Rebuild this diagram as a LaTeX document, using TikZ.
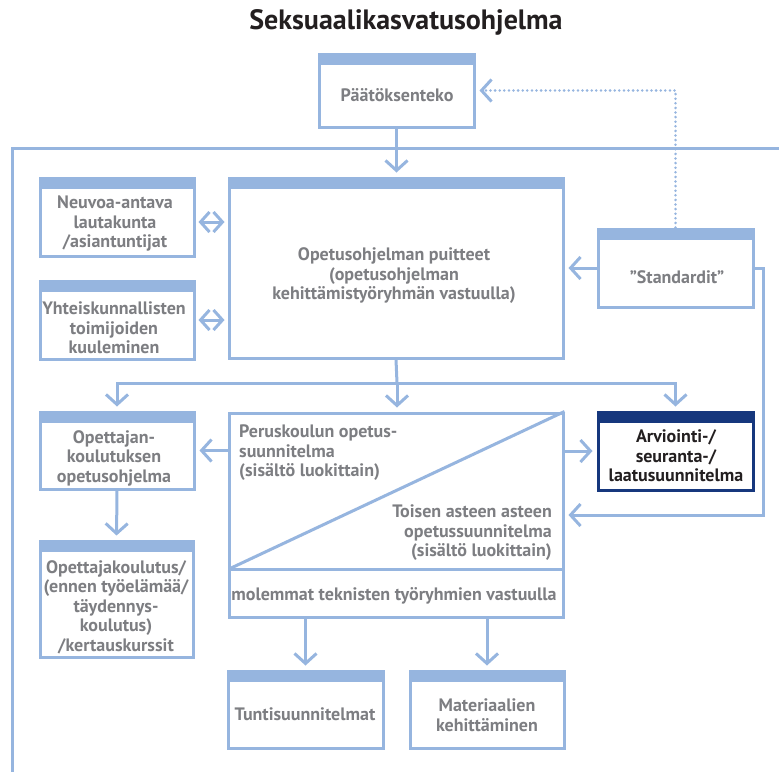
\documentclass[tikz,border=0pt]{standalone}
\usepackage{fontspec}
\setmainfont{PT Sans}
\usetikzlibrary{arrows.meta,calc}
\definecolor{lblue}{RGB}{150,181,223}
\definecolor{navy}{RGB}{22,55,125}
\definecolor{tgrey}{RGB}{125,126,130}
\definecolor{tblack}{RGB}{35,31,32}
\tikzset{
  frameline/.style={draw=lblue,line width=3pt},
  plainbox/.style={draw=lblue,line width=3pt,inner sep=0pt,fill=white},
  bandbox/.style={plainbox,path picture={\fill[lblue] (path picture bounding box.north west) rectangle ([yshift=-11pt]path picture bounding box.north east);}},
  navybox/.style={draw=navy,line width=3pt,inner sep=0pt,fill=white,path picture={\fill[navy] (path picture bounding box.north west) rectangle ([yshift=-11pt]path picture bounding box.north east);}},
  txt/.style={font=\fontsize{18}{19.5}\selectfont\bfseries,text=tgrey,align=center,inner sep=0pt},
  arr/.style={draw=lblue,line width=3pt,-{Straight Barb[length=10pt,width=22pt]},shorten >=4pt},
  darr/.style={draw=lblue,line width=3pt,{Straight Barb[length=9pt,width=20pt]}-{Straight Barb[length=9pt,width=20pt]},shorten >=3pt,shorten <=3pt},
  dotarr/.style={draw=lblue,line width=2.8pt,dash pattern=on 0pt off 4.6pt,line cap=round,-{Straight Barb[length=10pt,width=22pt,line cap=butt,line width=3pt]},shorten >=4pt},
  conn/.style={draw=lblue,line width=3pt},
}
\begin{document}
\begin{tikzpicture}[x=1pt,y=-1pt]
\useasboundingbox (0,0) rectangle (779,772);
% frame
\coordinate (frTR) at (779,148);
\coordinate (frTL) at (12,148);
\coordinate (frBL) at (12,772);
\draw[frameline] (frTR) -- (frTL) -- (frBL);
% title
\node[font=\fontsize{28}{32}\selectfont\bfseries,text=tblack,inner sep=0pt] (title) at (406,22) {Seksuaalikasvatusohjelma};
% boxes
\node[bandbox,minimum width=155pt,minimum height=73pt] (paat) at (396.5,90.5) {};
\node[bandbox,minimum width=334pt,minimum height=180pt] (puit) at (396,268) {};
\node[bandbox,minimum width=154pt,minimum height=78pt] (neuv) at (117,217) {};
\node[bandbox,minimum width=154pt,minimum height=78pt] (yhte) at (117,320) {};
\node[bandbox,minimum width=155pt,minimum height=78pt] (stan) at (675.5,268) {};
\node[bandbox,minimum width=154pt,minimum height=77pt] (opet) at (117,450.5) {};
\node[plainbox,minimum width=334pt,minimum height=204pt] (peru) at (396,515) {};
\node[navybox,minimum width=155pt,minimum height=78pt] (arvi) at (675.5,451) {};
\node[bandbox,minimum width=153pt,minimum height=116pt] (koul) at (116.5,599) {};
\node[bandbox,minimum width=155pt,minimum height=77pt] (tunt) at (305.5,709.5) {};
\node[bandbox,minimum width=154pt,minimum height=77pt] (mate) at (487,709.5) {};
% inner lines of peru box
\coordinate (divL) at (229,569);
\draw[conn] (divL) -- (divL -| peru.east);
\draw[conn] (divL) -- (peru.north east);
% texts
\node[txt] (tpaat) at (397,95) {Päätöksenteko};
\node[txt] (tpuit) at (394,276) {Opetusohjelman puitteet\\(opetusohjelman\\kehittämistyöryhmän vastuulla)};
\node[txt] (tneuv) at (115,224) {Neuvoa-antava\\lautakunta\\/asiantuntijat};
\node[txt] (tyhte) at (114,328) {Yhteiskunnallisten\\toimijoiden\\kuuleminen};
\node[txt] (tstan) at (677,277) {”Standardit”};
\node[txt] (topet) at (114,458) {Opettajan-\\koulutuksen\\opetusohjelma};
\node[txt,align=left,anchor=west] (tperu) at (239,453) {Peruskoulun opetus-\\suunnitelma\\(sisältö luokittain)};
\node[txt,align=right,anchor=east] (ttois) at (552,533) {Toisen asteen asteen\\opetussuunnitelma\\(sisältö luokittain)};
\node[txt] (tmole) at (394,596) {molemmat teknisten työryhmien vastuulla};
\node[txt,text=tblack] (tarvi) at (676,456) {Arviointi-/\\seuranta-/\\laatusuunnitelma};
\node[txt] (tkoul) at (116,607) {Opettajakoulutus/\\(ennen työelämää/\\täydennys-\\koulutus)\\/kertauskurssit};
\node[txt] (ttunt) at (305,714) {Tuntisuunnitelmat};
\node[txt] (tmate) at (487,715) {Materiaalien\\kehittäminen};
% connectors
\draw[arr] (paat.south) -- (paat.south |- puit.north);
\coordinate (dist) at (397,383);
\draw[conn] (puit.south) -- (dist);
\draw[arr] (dist) -- (dist |- peru.north);
\draw[arr] (dist) -| (opet.north);
\draw[arr] (dist) -| (arvi.north);
\draw[darr] ([yshift=-5pt]neuv.east) -- ([yshift=-5pt]neuv.east -| puit.west);
\draw[darr] (yhte.east) -- (yhte.east -| puit.west);
\draw[arr] (stan.west) -- (stan.west -| puit.east);
\draw[dotarr] (stan.north) |- (paat.east);
\coordinate (loop) at (763,268);
\draw[arr] (stan.east) -- (loop) -- (loop |- peru.east) -- (peru.east);
\draw[arr] (peru.west |- opet.east) -- (opet.east);
\draw[arr] (peru.east |- arvi.west) -- (arvi.west);
\draw[arr] (opet.south) -- (koul.north);
\draw[arr] (tunt.north |- peru.south) -- (tunt.north);
\draw[arr] (mate.north |- peru.south) -- (mate.north);
\end{tikzpicture}
\end{document}
